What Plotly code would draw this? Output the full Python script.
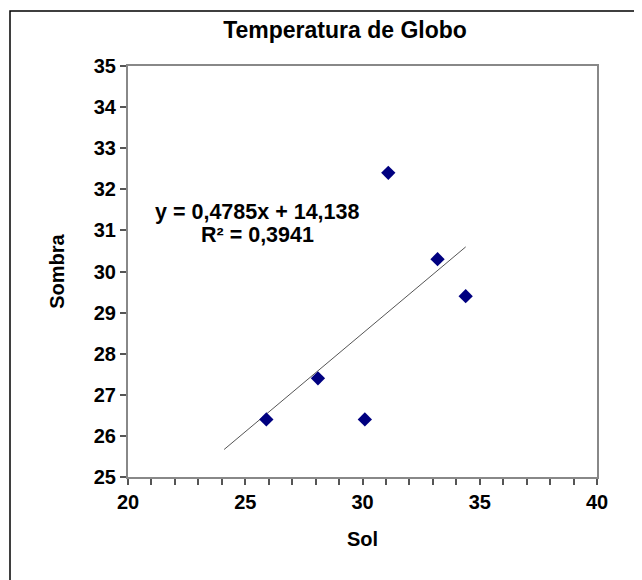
import plotly.graph_objects as go

# Data
sol = [25.9, 28.1, 30.1, 31.1, 33.2, 34.4]
sombra = [26.4, 27.4, 26.4, 32.4, 30.3, 29.4]
slope = 0.4785
intercept = 14.138
r2 = 0.3941
trend_x = [24.1, 34.4]
x_ticks = [20, 25, 30, 35, 40]
y_ticks = list(range(25, 36))

trend_y = [slope * x + intercept for x in trend_x]

FONT = "Liberation Sans, Arial, sans-serif"

fig = go.Figure()
fig.add_trace(go.Scatter(
    x=trend_x, y=trend_y, mode="lines",
    line=dict(color="#555555", width=1),
    showlegend=False, hoverinfo="skip",
))
fig.add_trace(go.Scatter(
    x=sol, y=sombra, mode="markers",
    marker=dict(symbol="diamond", size=11, color="#000080"),
    showlegend=False,
))

eq_text = "y = " + f"{slope:.4f}".replace(".", ",") + "x + " + f"{intercept:.3f}".replace(".", ",")
r2_text = "R² = " + f"{r2:.4f}".replace(".", ",")

# page body has an 8px margin; work in figure coordinates shifted by 8px
OFF = 8
W, H = 642 - OFF, 580 - OFF
L, T = 128 - OFF, 66 - OFF
R = W - (597 - OFF)
B = H - (477 - OFF)
pw, ph = W - L - R, H - T - B

def px_to_paper(px, py):
    px -= OFF
    py -= OFF
    return (px - L) / pw, (H - B - py) / ph

ex, ey = px_to_paper(257, 212)
rx, ry = px_to_paper(257, 235)
for txt, yy, sz in ((eq_text, ey, 21.5), (r2_text, ry, 21.5)):
    fig.add_annotation(x=ex, y=yy, xref="paper", yref="paper", text=f"<b>{txt}</b>",
                       showarrow=False, xanchor="center", yanchor="middle",
                       font=dict(family=FONT, size=sz, color="black"))

# outer frame
fx0, fy0 = px_to_paper(10, 11)
fx1, fy1 = px_to_paper(660, 600)
fig.add_shape(type="rect", xref="paper", yref="paper", x0=fx0, y0=fy1, x1=fx1, y1=fy0,
              line=dict(color="black", width=1.5), fillcolor="rgba(0,0,0,0)", layer="below")

fig.update_layout(
    width=W, height=H,
    margin=dict(l=L, r=R, t=T, b=B),
    paper_bgcolor="white", plot_bgcolor="white",
    font=dict(family=FONT, size=20, color="black"),
    title=dict(text="<b>Temperatura de Globo</b>", x=((222 + 468) / 2 - OFF) / W, xanchor="center",
               y=1 - (30 - OFF) / H, yanchor="middle", yref="container",
               font=dict(family=FONT, size=23, color="black")),
    xaxis=dict(range=[20, 40], tickvals=x_ticks, ticktext=[f"<b>{v}</b>" for v in x_ticks],
               ticks="outside", ticklen=6, tickcolor="#555555", tickwidth=1.5,
               minor=dict(dtick=1, ticks="outside", ticklen=6, tickcolor="#555555", tickwidth=1.5),
               showgrid=False, zeroline=False, showline=True, linecolor="#888888", linewidth=2,
               mirror=True,
               title=dict(text="<b>Sol</b>", standoff=20, font=dict(family=FONT, size=20)),
               tickfont=dict(family=FONT, size=20)),
    yaxis=dict(range=[25, 35], tickvals=y_ticks, ticktext=[f"<b>{v}</b>" for v in y_ticks],
               ticks="outside", ticklen=6, tickcolor="#555555", tickwidth=1.5,
               showgrid=False, zeroline=False, showline=True, linecolor="#888888", linewidth=2,
               mirror=True,
               title=dict(text="<b>Sombra</b>", standoff=24, font=dict(family=FONT, size=20)),
               tickfont=dict(family=FONT, size=20)),
)

fig.write_html("out.html")
